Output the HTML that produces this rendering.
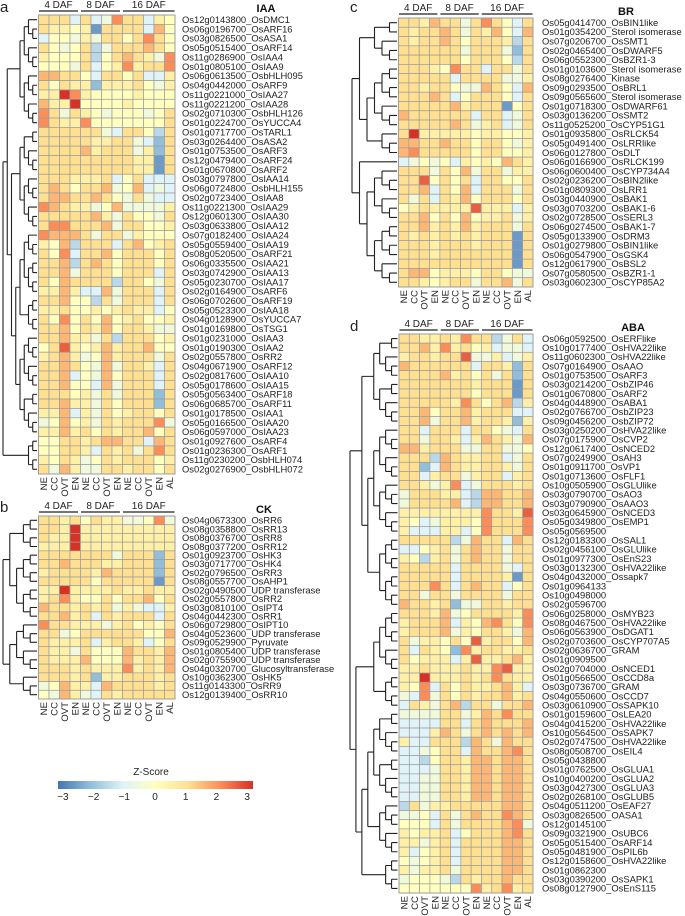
<!DOCTYPE html>
<html><head><meta charset="utf-8"><style>
html,body{margin:0;padding:0;background:#fff;}
svg{display:block;font-family:"Liberation Sans",Arial,sans-serif;}
</style></head><body>
<svg id="fig" width="685" height="916" viewBox="0 0 685 916" xmlns="http://www.w3.org/2000/svg">
<defs>
<linearGradient id="zgrad" x1="0" x2="1" y1="0" y2="0">
<stop offset="0" stop-color="#4575b4"/><stop offset="0.1667" stop-color="#91bfdb"/><stop offset="0.3333" stop-color="#e0f3f8"/><stop offset="0.5" stop-color="#ffffbf"/><stop offset="0.6667" stop-color="#fee090"/><stop offset="0.8333" stop-color="#fc8d59"/><stop offset="1" stop-color="#d73027"/>
</linearGradient>
</defs>
<g id="legend">
<text x="151" y="775" font-size="10" text-anchor="middle" fill="#222">Z-Score</text>
<rect x="58" y="781" width="195" height="8" fill="url(#zgrad)"/>
</g>
</svg>
<script>
const columns = ["NE","CC","OVT","EN","NE","CC","OVT","EN","NE","CC","OVT","EN","AL"];
const groups = ["4 DAF","8 DAF","16 DAF"];
const legendTicks = [-3,-2,-1,0,1,2,3];
// values encoded per row: char k in 0..c -> z = (k-6)/2
const iaaGenes = ["Os12g0143800_OsDMC1","Os06g0196700_OsARF16","Os03g0826500_OsASA1","Os05g0515400_OsARF14","Os11g0286900_OsIAA4","Os01g0805100_OsIAA9","Os06g0613500_OsbHLH095","Os04g0442000_OsARF9","Os11g0221000_OsIAA27","Os11g0221200_OsIAA28","Os02g0710300_OsbHLH126","Os01g0224700_OsYUCCA4","Os01g0717700_OsTARL1","Os03g0264400_OsASA2","Os01g0753500_OsARF3","Os12g0479400_OsARF24","Os01g0670800_OsARF2","Os03g0797800_OsIAA14","Os06g0724800_OsbHLH155","Os02g0723400_OsIAA8","Os11g0221300_OsIAA29","Os12g0601300_OsIAA30","Os03g0633800_OsIAA12","Os07g0182400_OsIAA24","Os05g0559400_OsIAA19","Os08g0520500_OsARF21","Os06g0335500_OsIAA21","Os03g0742900_OsIAA13","Os05g0230700_OsIAA17","Os02g0164900_OsARF6","Os06g0702600_OsARF19","Os05g0523300_OsIAA18","Os04g0128900_OsYUCCA7","Os01g0169800_OsTSG1","Os01g0231000_OsIAA3","Os01g0190300_OsIAA2","Os02g0557800_OsRR2","Os04g0671900_OsARF12","Os02g0817600_OsIAA10","Os05g0178600_OsIAA15","Os05g0563400_OsARF18","Os06g0685700_OsARF11","Os01g0178500_OsIAA1","Os05g0166500_OsIAA20","Os06g0597000_OsIAA23","Os01g0927600_OsARF4","Os01g0236300_OsARF1","Os11g0230200_OsbHLH074","Os02g0276900_OsbHLH072"];
const iaaValues = ["8884845a88476","8776718888496","4665758868a86","8656835888986","766683689875a","66658467a788a","9988648868447","8687727778657","77ca766667666","977c666676666","a858765666568","a877a66666668","8888885488638","8888877885428","8888978885728","8888888887718","8888888887718","8887778468444","8986889569454","8998898658544","a987756955557","8888897586658","8aa8889588667","a999858857666","7693888489678","86a4889688868","8893898688868","8895888688848","8698888388658","7797449588848","8896638588848","7786676787746","86a6869678667","8896879688755","8897758388867","68b7679788966","7897569788858","8898659588748","8894659688848","8896649588848","8886758588828","8897758688828","7794758678868","56967587888a5","7797868788968","6688789988498","66887487858a8","7687568788867","8597558878868"];
const ckGenes = ["Os04g0673300_OsRR6","Os08g0358800_OsRR13","Os08g0376700_OsRR8","Os08g0377200_OsRR12","Os01g0923700_OsHK3","Os03g0717700_OsHK4","Os02g0796500_OsRR3","Os08g0557700_OsAHP1","Os02g0490500_UDP transferase","Os02g0557800_OsRR2","Os03g0810100_OsIPT4","Os04g0442300_OsRR1","Os06g0729800_OsIPT10","Os04g0523600_UDP transferase","Os09g0529900_Pyruvate","Os01g0805400_UDP transferase","Os02g0755900_UDP transferase","Os04g0320700_Glucosyltransferase","Os10g0362300_OsHK5","Os11g0143300_OsRR9","Os12g0139400_OsRR10"];
const ckValues = ["88786877556a5","887c777777777","877c777777777","777c777777777","8888888588828","8898887788828","7888879888828","8888868888818","77c7777877877","78a7668688968","9887878575447","8897848788848","a887775786768","8856888888669","8777847887468","8775866698879","8777966697879","88878777a7879","8887827788878","5697749888878","6597548788888"];
const brGenes = ["Os05g0414700_OsBIN1like","Os01g0354200_Sterol isomerase","Os07g0206700_OsSMT1","Os02g0465400_OsDWARF5","Os06g0552300_OsBZR1-3","Os01g0103600_Sterol isomerase","Os08g0276400_Kinase","Os09g0293500_OsBRL1","Os09g0565600_Sterol isomerase","Os01g0718300_OsDWARF61","Os03g0136200_OsSMT2","Os11g0525200_OsCYP51G1","Os01g0935800_OsRLCK54","Os05g0491400_OsLRRlike","Os06g0127800_OsDLT","Os06g0166900_OsRLCK199","Os06g0600400_OsCYP734A4","Os02g0236200_OsBIN2like","Os01g0809300_OsLRR1","Os03g0440900_OsBAK1","Os03g0703200_OsBAK1-6","Os02g0728500_OsSERL3","Os06g0274500_OsBAK1-7","Os05g0133900_OsDRM3","Os01g0279800_OsBIN1like","Os06g0547900_OsGSK4","Os12g0617900_OsBSL2","Os07g0580500_OsBZR1-1","Os03g0602300_OsCYP85A2"];
const brValues = ["88798858a8648","8788985879649","8788986888738","8888885888528","8888886888638","88876a8848858","8888848888557","8878865598649","8889846888648","8888897888168","9888888488458","8888898578458","8c77777677667","9988988688657","9a88888688667","4565647676987","8885869588577","88b6868488668","8894869488858","8584879688868","6787777b77747","8896869677857","8897879788858","8787878788818","8887888788818","8887888888818","8888888888818","8996777688655","8876788588958"];
const abaGenes = ["Os06g0592500_OsERFlike","Os10g0177400_OsHVA22like","Os11g0602300_OsHVA22like","Os07g0164900_OsAAO","Os01g0753500_OsARF3","Os03g0214200_OsbZIP46","Os01g0670800_OsARF2","Os04g0448900_OsABA1","Os02g0766700_OsbZIP23","Os09g0456200_OsbZIP72","Os03g0250200_OsHVA22like","Os07g0175900_OsCVP2","Os12g0617400_OsNCED2","Os07g0249900_OsAH3","Os01g0911700_OsVP1","Os01g0713600_OsFLF1","Os10g0505900_OsGLUlike","Os03g0790700_OsAO3","Os03g0790900_OsAAO3","Os03g0645900_OsNCED3","Os05g0349800_OsEMP1","Os05g0569500","Os12g0183300_OsSAL1","Os02g0456100_OsGLUlike","Os01g0977300_OsEnS23","Os03g0132300_OsHVA22like","Os04g0432000_Ossapk7","Os01g0964133","Os10g0498000","Os02g0596700","Os06g0258000_OsMYB23","Os08g0467500_OsHVA22like","Os06g0563900_OsDGAT1","Os02g0703600_OsCYP707A5","Os02g0636700_GRAM","Os01g0909500","Os02g0704000_OsNCED1","Os01g0566500_OsCCD8a","Os03g0736700_GRAM","Os04g0550600_OsCCD7","Os03g0610900_OsSAPK10","Os01g0159600_OsLEA20","Os04g0415200_OsHVA22like","Os10g0564500_OsSAPK7","Os02g0747500_OsHVA22like","Os08g0508700_OsEIL4","Os05g0438800","Os01g0762500_OsGLUA1","Os10g0400200_OsGLUA2","Os03g0427300_OsGLUA3","Os02g0268100_OsGLUB5","Os04g0511200_OsEAF27","Os03g0826500_OASA1","Os12g0145100","Os09g0321900_OsUBC6","Os05g0515400_OsARF14","Os05g0481900_OsPIL6b","Os12g0158600_OsHVA22like","Os01g0862300","Os03g0390200_OsSAPK1","Os08g0127900_OsEnS115"];
const abaValues = ["887787a883584","8897a78674554","788788b557457","9888888488728","8888978685828","8888888788818","8888888688818","888887a868937","8896889788844","8895889788727","8848884886548","8858874798759","9978885588556","8883987788458","8824987788758","8847885788478","88757a4588878","5888774399889","5888894399889","77777777a887b","76457776a888a","74447746a888a","8888835988498","4467858988588","7637858988588","8888848888548","8888848888718","888a848988468","8858858888588","9887825588788","888795688887a","788894769a86a","7888957688759","8577686b78869","848762a788778","8677747b77897","778777877ab77","77c777878a877","76a4868778974","54a5868788978","4875893885889","5555885798a88","4444884898889","4447985898989","7448883985988","44568849889a8","4436887998998","4445887998998","4455887998998","4455887998998","4455887998998","3857788888998","5564858988a98","66648588889a5","76778468889a8","7757848888998","7467848888998","6567848888998","7577858888998","5666538788988","6666666a78a78"];
const iaaTree = [[[6,6],[[5,6],[[7,4],[6,5]]]],4];
const ckTree = [[4,[4,4]],[[[1,2],3],3]];
const brTree = [[5,[[4,3],3]],[1,[[3,3],[4,3]]]];
const abaTree = [[10,[[6,6],[4,4]]],[[[4,3],4],[[10,6],4]]];

const NS = "http://www.w3.org/2000/svg";
const svg = document.getElementById("fig");
function mk(tag, attrs, parent){const e=document.createElementNS(NS,tag);for(const k in attrs)e.setAttribute(k,attrs[k]);(parent||svg).appendChild(e);return e;}
const stops=[[-3,[69,117,180]],[-2,[145,191,219]],[-1,[224,243,248]],[0,[255,255,191]],[1,[254,224,144]],[2,[252,141,89]],[3,[215,48,39]]];
function zColor(z){z=Math.max(-3,Math.min(3,z));for(let i=0;i<stops.length-1;i++){const a=stops[i],b=stops[i+1];if(z<=b[0]){const t=(z-a[0])/(b[0]-a[0]);const c=a[1].map((v,j)=>Math.round(v+(b[1][j]-v)*t));return "rgb("+c.join(",")+")";}}return "rgb(215,48,39)";}
function decode(s){return s.split("").map(ch=>(parseInt(ch,16)-6)/2);}
function balanced(n){if(n===1)return 1;const a=Math.floor(n/2);return [balanced(a),balanced(n-a)];}
function expand(t){if(typeof t==="number")return t===1?1:balanced(t);return t.map(expand);}

function panel(p){
  const g=mk("g",{});
  
  
  const n=p.genes.length, cw=(p.x1-p.x0)/columns.length, rh=(p.y1-p.y0)/n;
  const xs=i=>p.x0+i*cw, ys=r=>p.y0+r*rh;
  const L=mk("text",{x:p.lx,y:p.ly,"font-size":15,fill:"#222"},g);L.textContent=p.letter;
  
  
  const T=mk("text",{x:p.tx,y:p.ty,"font-size":11,"font-weight":"bold","text-anchor":"middle",fill:"#111"},g);T.textContent=p.title;
  
  
  groups.forEach((gl,gi)=>{
    const a=xs(gi*4)+0.5, b=gi===2?p.x1-0.5:xs(gi*4+4)-2.5;
    const ln=mk("line",{x1:a,x2:b,y1:p.y0-4,y2:p.y0-4,stroke:"#222","stroke-width":1.2},g);
    
    
    const t=mk("text",{x:(a+b)/2,y:p.y0-7,"font-size":10,"text-anchor":"middle",fill:"#222"},g);t.textContent=gl;
    
    
  });
  p.values.forEach((row,r)=>{
    decode(row).forEach((z,c)=>{
      const cell=mk("rect",{x:xs(c),y:ys(r),width:cw,height:rh,fill:zColor(z),stroke:"#9c9c9c","stroke-width":0.7},g);
      
      
    });
    const t=mk("text",{x:p.labx,y:ys(r)+rh/2+3.3,"font-size":9.4,fill:"#222"},g);t.textContent=p.genes[r];
    
    
  });
  const fr=mk("rect",{x:p.x0,y:p.y0,width:p.x1-p.x0,height:p.y1-p.y0,fill:"none",stroke:"#9c9c9c","stroke-width":1},g);
  
  
  columns.forEach((cl,c)=>{
    const cx=xs(c)+cw/2+3.3, cy=p.y1+3;
    const t=mk("text",{x:cx,y:cy,"font-size":9.6,"text-anchor":"end",fill:"#222",transform:"rotate(-90 "+cx+" "+cy+")"},g);t.textContent=cl;
    
    
  });
  const tree=expand(p.tree); let leaf=0;
  function lay(t){ if(t===1){const y=ys(leaf)+rh/2;leaf++;return {y,h:0};}
    const k=t.map(lay);return {y:(k[0].y+k[k.length-1].y)/2,h:1+Math.max(...k.map(o=>o.h)),k};}
  const root=lay(tree); const H=root.h; const right=p.x0-1.5, W=right-p.dx;
  const hx=h=>right-h/H*W; let d="";
  function draw(o){ if(!o.k)return; const x=hx(o.h);
    d+="M"+x+" "+o.k[0].y+"V"+o.k[o.k.length-1].y;
    o.k.forEach(c=>{d+="M"+x+" "+c.y+"H"+hx(c.h);draw(c);}); }
  draw(root);
  const dp=mk("path",{d:d,fill:"none",stroke:"#222","stroke-width":1.1},g);
  
  
}
panel({name:"iaa",letter:"a",lx:0,ly:12,title:"IAA",tx:266,ty:12,genes:iaaGenes,values:iaaValues,tree:iaaTree,x0:38.5,x1:175,y0:15,y1:474,labx:182,dx:3});
panel({name:"ck",letter:"b",lx:0,ly:512,title:"CK",tx:264,ty:513,genes:ckGenes,values:ckValues,tree:ckTree,x0:38.5,x1:175,y0:516,y1:699,labx:182,dx:3});
panel({name:"br",letter:"c",lx:350,ly:12,title:"BR",tx:626,ty:15,genes:brGenes,values:brValues,tree:brTree,x0:398.5,x1:533,y0:18,y1:287,labx:542,dx:352});
panel({name:"aba",letter:"d",lx:350,ly:331,title:"ABA",tx:633,ty:331,genes:abaGenes,values:abaValues,tree:abaTree,x0:399,x1:533,y0:334,y1:893,labx:542,dx:350});
const lg=document.getElementById("legend");
legendTicks.forEach(v=>{
  const t=mk("text",{x:155+v*30.7,y:800,"font-size":10,"text-anchor":"middle",fill:"#222"},lg);
  t.textContent=v<0?"\u2212"+Math.abs(v):String(v);
  
  
});
</script>
</body></html>
